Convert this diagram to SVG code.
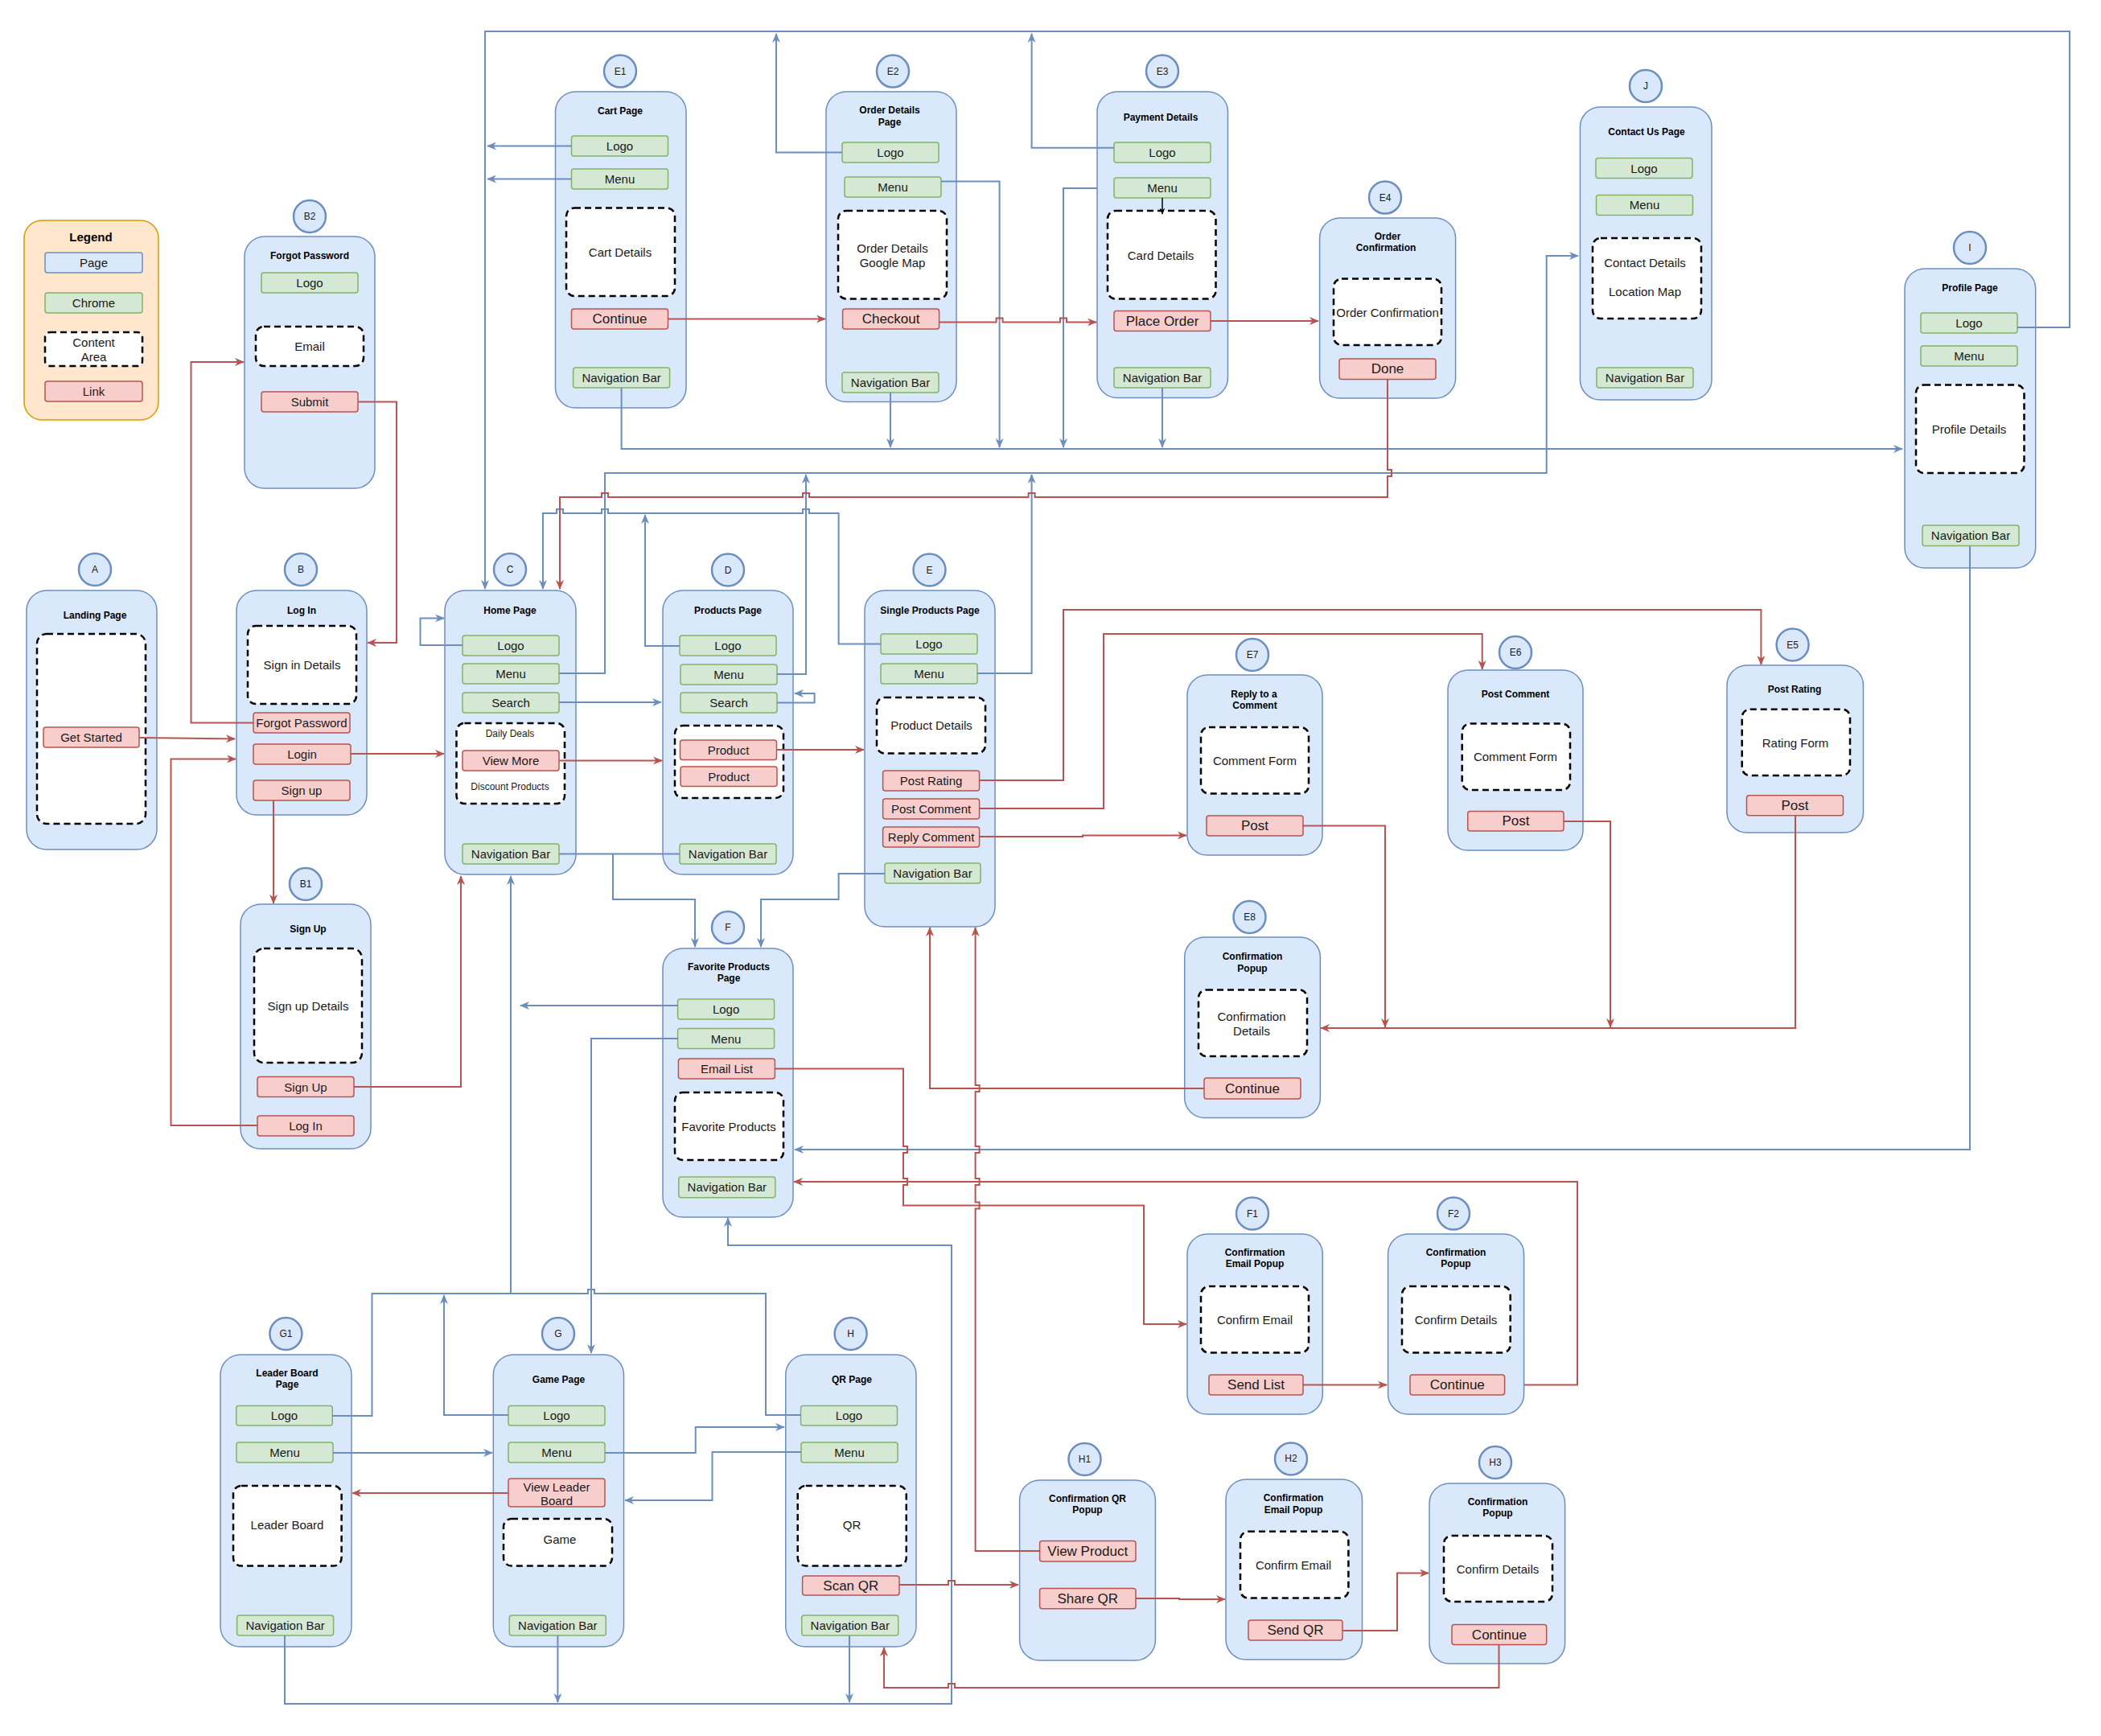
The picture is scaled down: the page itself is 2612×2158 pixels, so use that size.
<svg xmlns="http://www.w3.org/2000/svg" width="2612" height="2158" viewBox="0 0 2612 2158">
<defs>
<style>
.pg{fill:#dae8fc;stroke:#6c8ebf;stroke-width:1.5}
.ci{fill:#dae8fc;stroke:#6c8ebf;stroke-width:2.5}
.ch{fill:#d5e8d4;stroke:#82b366;stroke-width:1.5}
.lk{fill:#f8cecc;stroke:#b85450;stroke-width:1.5}
.ca{fill:#ffffff;stroke:#000000;stroke-width:2.5;stroke-dasharray:8 5}
text{font-family:"Liberation Sans",Arial,Helvetica,sans-serif;font-size:15px;text-anchor:middle;dominant-baseline:central;fill:#1a1a1a}
.tt{font-size:12px;font-weight:bold;fill:#000000}
.sm{font-size:12px}
.lg{font-size:17px}
.bl{fill:none;stroke:#6c8ebf;stroke-width:2}
.rl{fill:none;stroke:#b85450;stroke-width:2}
.ba{marker-end:url(#ab)}
.ra{marker-end:url(#ar)}
</style>
<marker id="ab" viewBox="0 0 12 10" refX="11" refY="5" markerWidth="12" markerHeight="10" markerUnits="userSpaceOnUse" orient="auto"><path d="M0,0 L12,5 L0,10 L3.5,5 z" fill="#6c8ebf"/></marker>
<marker id="ar" viewBox="0 0 12 10" refX="11" refY="5" markerWidth="12" markerHeight="10" markerUnits="userSpaceOnUse" orient="auto"><path d="M0,0 L12,5 L0,10 L3.5,5 z" fill="#b85450"/></marker>
<marker id="ak" viewBox="0 0 12 10" refX="11" refY="5" markerWidth="8" markerHeight="7" markerUnits="userSpaceOnUse" orient="auto"><path d="M0,0 L12,5 L0,10 L3.5,5 z" fill="#000000"/></marker>
</defs>
<rect x="0" y="0" width="2612" height="2158" fill="#ffffff"/>

<g id="nodes">
<g id="legend">
<rect x="30" y="274" width="167" height="248" rx="22" fill="#ffe6cc" stroke="#d79b00" stroke-width="1.5"/>
<text x="113" y="294" style="font-weight:bold;fill:#000">Legend</text>
<rect class="pg" x="56" y="314" width="121" height="25" rx="3"/><text x="116.5" y="326.5">Page</text>
<rect class="ch" x="56" y="364" width="121" height="25" rx="3"/><text x="116.5" y="376.5">Chrome</text>
<rect class="ca" x="56" y="413" width="121" height="42" rx="6"/><text x="116.5" y="425.5">Content</text><text x="116.5" y="443.5">Area</text>
<rect class="lk" x="56" y="474" width="121" height="25" rx="3"/><text x="116.5" y="486.5">Link</text>
</g>

<g id="B2">
<rect class="pg" x="304" y="294" width="162" height="313" rx="25"/>
<circle class="ci" cx="385" cy="269" r="20"/><text class="sm" x="385" y="269">B2</text>
<text class="tt" x="385" y="318">Forgot Password</text>
<rect class="ch" x="325" y="339" width="120" height="25" rx="3"/><text x="385" y="351.5">Logo</text>
<rect class="ca" x="318" y="406" width="134" height="49" rx="10"/><text x="385" y="430.5">Email</text>
<rect class="lk" x="325" y="487" width="120" height="25" rx="3"/><text x="385" y="499.5">Submit</text>
</g>

<g id="A">
<rect class="pg" x="33" y="734" width="162" height="322" rx="25"/>
<circle class="ci" cx="118" cy="708" r="20"/><text class="sm" x="118" y="708">A</text>
<text class="tt" x="118" y="765">Landing Page</text>
<rect class="ca" x="46" y="788" width="135" height="236" rx="12"/>
<rect class="lk" x="54" y="904" width="119" height="25" rx="3"/><text x="113.5" y="916.5">Get Started</text>
</g>

<g id="B">
<rect class="pg" x="294" y="734" width="162" height="279" rx="25"/>
<circle class="ci" cx="374" cy="708" r="20"/><text class="sm" x="374" y="708">B</text>
<text class="tt" x="375" y="758.5">Log In</text>
<rect class="ca" x="308" y="778" width="135" height="97" rx="10"/><text x="375.5" y="826.5">Sign in Details</text>
<rect class="lk" x="315" y="886" width="120" height="25" rx="3"/><text x="375" y="898.5">Forgot Password</text>
<rect class="lk" x="315" y="925" width="121" height="25" rx="3"/><text x="375.5" y="937.5">Login</text>
<rect class="lk" x="315" y="970" width="120" height="25" rx="3"/><text x="375" y="982.5">Sign up</text>
</g>

<g id="B1">
<rect class="pg" x="299" y="1124" width="162" height="304" rx="25"/>
<circle class="ci" cx="380" cy="1099" r="20"/><text class="sm" x="380" y="1099">B1</text>
<text class="tt" x="383" y="1155">Sign Up</text>
<rect class="ca" x="316" y="1179" width="134" height="142" rx="12"/><text x="383" y="1250">Sign up Details</text>
<rect class="lk" x="320" y="1338.5" width="120" height="25" rx="3"/><text x="380" y="1351">Sign Up</text>
<rect class="lk" x="320" y="1387" width="120" height="25" rx="3"/><text x="380" y="1399.5">Log In</text>
</g>

<g id="C">
<rect class="pg" x="553" y="734" width="163" height="353" rx="25"/>
<circle class="ci" cx="634" cy="708" r="20"/><text class="sm" x="634" y="708">C</text>
<text class="tt" x="634" y="758.5">Home Page</text>
<rect class="ch" x="575" y="790" width="120" height="25" rx="3"/><text x="635" y="802.5">Logo</text>
<rect class="ch" x="575" y="825" width="120" height="25" rx="3"/><text x="635" y="837.5">Menu</text>
<rect class="ch" x="575" y="861" width="120" height="25" rx="3"/><text x="635" y="873.5">Search</text>
<rect class="ca" x="567.5" y="899" width="134.5" height="100" rx="10"/>
<text class="sm" x="634" y="911.5">Daily Deals</text>
<rect class="lk" x="575" y="933" width="120" height="25" rx="3"/><text x="635" y="945.5">View More</text>
<text class="sm" x="634" y="977.5">Discount Products</text>
<rect class="ch" x="575" y="1049" width="120" height="25" rx="3"/><text x="635" y="1061.5">Navigation Bar</text>
</g>

<g id="D">
<rect class="pg" x="824" y="734" width="162" height="353" rx="25"/>
<circle class="ci" cx="905" cy="708.5" r="20"/><text class="sm" x="905" y="708.5">D</text>
<text class="tt" x="905" y="758.5">Products Page</text>
<rect class="ch" x="845" y="790" width="120" height="25" rx="3"/><text x="905" y="802.5">Logo</text>
<rect class="ch" x="846" y="826" width="120" height="25" rx="3"/><text x="906" y="838.5">Menu</text>
<rect class="ch" x="846" y="861" width="120" height="25" rx="3"/><text x="906" y="873.5">Search</text>
<rect class="ca" x="839" y="902" width="135" height="90" rx="10"/>
<rect class="lk" x="845.5" y="920" width="120" height="24.5" rx="3"/><text x="905.5" y="932.25">Product</text>
<rect class="lk" x="846" y="953" width="120" height="24.5" rx="3"/><text x="906" y="965.25">Product</text>
<rect class="ch" x="845" y="1049" width="120" height="25" rx="3"/><text x="905" y="1061.5">Navigation Bar</text>
</g>

<g id="E">
<rect class="pg" x="1075" y="734" width="162" height="418" rx="25"/>
<circle class="ci" cx="1155.5" cy="708.5" r="20"/><text class="sm" x="1155.5" y="708.5">E</text>
<text class="tt" x="1156" y="758.5">Single Products Page</text>
<rect class="ch" x="1095" y="788" width="120" height="25" rx="3"/><text x="1155" y="800.5">Logo</text>
<rect class="ch" x="1095" y="825" width="120" height="25" rx="3"/><text x="1155" y="837.5">Menu</text>
<rect class="ca" x="1090" y="867" width="135" height="69.5" rx="10"/><text x="1158" y="901.5">Product Details</text>
<rect class="lk" x="1097.6" y="958" width="120" height="25" rx="3"/><text x="1157.6" y="970.5">Post Rating</text>
<rect class="lk" x="1097.6" y="993" width="120" height="25" rx="3"/><text x="1157.6" y="1005.5">Post Comment</text>
<rect class="lk" x="1097.6" y="1028" width="120" height="25" rx="3"/><text x="1157.6" y="1040.5">Reply Comment</text>
<rect class="ch" x="1100" y="1073" width="119" height="25" rx="3"/><text x="1159.5" y="1085.5">Navigation Bar</text>
</g>

<g id="E1">
<rect class="pg" x="690.5" y="114" width="162.5" height="393" rx="25"/>
<circle class="ci" cx="771" cy="88.6" r="20"/><text class="sm" x="771" y="88.6">E1</text>
<text class="tt" x="771" y="138">Cart Page</text>
<rect class="ch" x="710.5" y="169" width="120" height="25" rx="3"/><text x="770.5" y="181.5">Logo</text>
<rect class="ch" x="710.5" y="210" width="120" height="25" rx="3"/><text x="770.5" y="222.5">Menu</text>
<rect class="ca" x="704" y="258.5" width="135" height="109.5" rx="10"/><text x="771" y="313">Cart Details</text>
<rect class="lk" x="710.5" y="384" width="120" height="25" rx="3"/><text class="lg" x="770.5" y="396.5">Continue</text>
<rect class="ch" x="712.6" y="457" width="120" height="25" rx="3"/><text x="772.6" y="469.5">Navigation Bar</text>
</g>

<g id="E2">
<rect class="pg" x="1027" y="114" width="162" height="385.5" rx="25"/>
<circle class="ci" cx="1110" cy="88.6" r="20"/><text class="sm" x="1110" y="88.6">E2</text>
<text class="tt" x="1106" y="137.3">Order Details</text><text class="tt" x="1106" y="151.5">Page</text>
<rect class="ch" x="1047" y="177" width="120" height="25" rx="3"/><text x="1107" y="189.5">Logo</text>
<rect class="ch" x="1050" y="220" width="120" height="25" rx="3"/><text x="1110" y="232.5">Menu</text>
<rect class="ca" x="1042" y="262" width="135" height="109.5" rx="10"/><text x="1109.5" y="308.5">Order Details</text><text x="1109.5" y="326.5">Google Map</text>
<rect class="lk" x="1047.6" y="384" width="120" height="25" rx="3"/><text class="lg" x="1107.6" y="396.5">Checkout</text>
<rect class="ch" x="1047" y="463" width="120" height="25" rx="3"/><text x="1107" y="475.5">Navigation Bar</text>
</g>

<g id="E3">
<rect class="pg" x="1364" y="114" width="162.5" height="380.5" rx="25"/>
<circle class="ci" cx="1445" cy="88.6" r="20"/><text class="sm" x="1445" y="88.6">E3</text>
<text class="tt" x="1443" y="145.5">Payment Details</text>
<rect class="ch" x="1385" y="177" width="120" height="25" rx="3"/><text x="1445" y="189.5">Logo</text>
<rect class="ch" x="1385" y="221" width="120" height="25" rx="3"/><text x="1445" y="233.5">Menu</text>
<rect class="ca" x="1377" y="262" width="134.5" height="109.5" rx="10"/><text x="1443" y="317">Card Details</text>
<rect class="lk" x="1385" y="386.6" width="120" height="25" rx="3"/><text class="lg" x="1445" y="399.1">Place Order</text>
<rect class="ch" x="1385" y="457" width="120" height="25" rx="3"/><text x="1445" y="469.5">Navigation Bar</text>
</g>

<g id="E4">
<rect class="pg" x="1640.6" y="271" width="169" height="224" rx="25"/>
<circle class="ci" cx="1722" cy="245.6" r="20"/><text class="sm" x="1722" y="245.6">E4</text>
<text class="tt" x="1725" y="294.3">Order</text><text class="tt" x="1723" y="308">Confirmation</text>
<rect class="ca" x="1658" y="346.6" width="134" height="82.4" rx="10"/><text x="1725" y="388.4">Order Confirmation</text>
<rect class="lk" x="1665" y="446" width="120" height="25.5" rx="3"/><text class="lg" x="1725" y="458.75">Done</text>
</g>

<g id="J">
<rect class="pg" x="1964.4" y="133" width="163.6" height="364" rx="25"/>
<circle class="ci" cx="2046" cy="107" r="20"/><text class="sm" x="2046" y="107">J</text>
<text class="tt" x="2047" y="163.5">Contact Us Page</text>
<rect class="ch" x="1984" y="196.5" width="120" height="25" rx="3"/><text x="2044" y="209">Logo</text>
<rect class="ch" x="1984.5" y="242.4" width="120" height="25" rx="3"/><text x="2044.5" y="254.9">Menu</text>
<rect class="ca" x="1980" y="296" width="135" height="100" rx="10"/><text x="2045" y="326.4">Contact Details</text><text x="2045" y="362.7">Location Map</text>
<rect class="ch" x="1985" y="457" width="120" height="25" rx="3"/><text x="2045" y="469.5">Navigation Bar</text>
</g>

<g id="I">
<rect class="pg" x="2368" y="334" width="162.7" height="372" rx="25"/>
<circle class="ci" cx="2449" cy="308" r="20"/><text class="sm" x="2449" y="308">I</text>
<text class="tt" x="2449" y="358">Profile Page</text>
<rect class="ch" x="2388" y="389" width="120" height="25" rx="3"/><text x="2448" y="401.5">Logo</text>
<rect class="ch" x="2388" y="430" width="120" height="25" rx="3"/><text x="2448" y="442.5">Menu</text>
<rect class="ca" x="2382" y="478.4" width="134.5" height="109.6" rx="10"/><text x="2448" y="533.5">Profile Details</text>
<rect class="ch" x="2390" y="653" width="120" height="25.6" rx="3"/><text x="2450" y="665.8">Navigation Bar</text>
</g>

<g id="E7">
<rect class="pg" x="1476" y="839" width="168" height="224" rx="25"/>
<circle class="ci" cx="1557" cy="814" r="20"/><text class="sm" x="1557" y="814">E7</text>
<text class="tt" x="1559" y="862.8">Reply to a</text><text class="tt" x="1560" y="876.5">Comment</text>
<rect class="ca" x="1493" y="904" width="134" height="82.5" rx="10"/><text x="1560" y="945.4">Comment Form</text>
<rect class="lk" x="1500" y="1014" width="120" height="25" rx="3"/><text class="lg" x="1560" y="1026.5">Post</text>
</g>

<g id="E6">
<rect class="pg" x="1800" y="833" width="168" height="224" rx="25"/>
<circle class="ci" cx="1884" cy="811" r="20"/><text class="sm" x="1884" y="811">E6</text>
<text class="tt" x="1884" y="863">Post Comment</text>
<rect class="ca" x="1817.7" y="899.6" width="134.3" height="82.4" rx="10"/><text x="1884" y="940.7">Comment Form</text>
<rect class="lk" x="1824.75" y="1008.6" width="119.25" height="24.4" rx="3"/><text class="lg" x="1884.4" y="1020.8">Post</text>
</g>

<g id="E5">
<rect class="pg" x="2147" y="827" width="169.5" height="208" rx="25"/>
<circle class="ci" cx="2228.6" cy="801.5" r="20"/><text class="sm" x="2228.6" y="801.5">E5</text>
<text class="tt" x="2231" y="857">Post Rating</text>
<rect class="ca" x="2165.7" y="881.7" width="134.3" height="82.3" rx="10"/><text x="2232" y="923.7">Rating Form</text>
<rect class="lk" x="2171.5" y="988.8" width="120" height="25" rx="3"/><text class="lg" x="2231.5" y="1001.3">Post</text>
</g>

<g id="E8">
<rect class="pg" x="1472.7" y="1165" width="168.7" height="224.5" rx="25"/>
<circle class="ci" cx="1553.5" cy="1140" r="20"/><text class="sm" x="1553.5" y="1140">E8</text>
<text class="tt" x="1557" y="1189.4">Confirmation</text><text class="tt" x="1557" y="1203.5">Popup</text>
<rect class="ca" x="1490" y="1230.4" width="135" height="82.6" rx="10"/><text x="1556" y="1263.5">Confirmation</text><text x="1556" y="1281.4">Details</text>
<rect class="lk" x="1497" y="1340" width="120" height="26" rx="3"/><text class="lg" x="1557" y="1353">Continue</text>
</g>

<g id="F">
<rect class="pg" x="824" y="1179" width="162" height="334" rx="25"/>
<circle class="ci" cx="905" cy="1153" r="20"/><text class="sm" x="905" y="1153">F</text>
<text class="tt" x="906" y="1202">Favorite Products</text><text class="tt" x="906" y="1216">Page</text>
<rect class="ch" x="842.6" y="1242" width="120" height="25" rx="3"/><text x="902.6" y="1254.5">Logo</text>
<rect class="ch" x="842.6" y="1278.6" width="120" height="25" rx="3"/><text x="902.6" y="1291.1">Menu</text>
<rect class="lk" x="843.4" y="1316" width="120" height="25" rx="3"/><text x="903.4" y="1328.5">Email List</text>
<rect class="ca" x="839" y="1358" width="135" height="84" rx="10"/><text x="906" y="1400">Favorite Products</text>
<rect class="ch" x="843.8" y="1463" width="120" height="25.7" rx="3"/><text x="903.8" y="1475.8">Navigation Bar</text>
</g>

<g id="F1">
<rect class="pg" x="1476" y="1534" width="168.3" height="224" rx="25"/>
<circle class="ci" cx="1557" cy="1508.5" r="20"/><text class="sm" x="1557" y="1508.5">F1</text>
<text class="tt" x="1560" y="1557.4">Confirmation</text><text class="tt" x="1560" y="1571">Email Popup</text>
<rect class="ca" x="1493" y="1599" width="134" height="82.6" rx="10"/><text x="1560" y="1640">Confirm Email</text>
<rect class="lk" x="1503" y="1709" width="117" height="25" rx="3"/><text class="lg" x="1561.5" y="1721.5">Send List</text>
</g>

<g id="F2">
<rect class="pg" x="1725.6" y="1534" width="169" height="224" rx="25"/>
<circle class="ci" cx="1807" cy="1508.5" r="20"/><text class="sm" x="1807" y="1508.5">F2</text>
<text class="tt" x="1810" y="1557.4">Confirmation</text><text class="tt" x="1810" y="1571">Popup</text>
<rect class="ca" x="1743" y="1599" width="134.7" height="82.6" rx="10"/><text x="1810" y="1640">Confirm Details</text>
<rect class="lk" x="1753" y="1709" width="117.6" height="25" rx="3"/><text class="lg" x="1811.8" y="1721.5">Continue</text>
</g>

<g id="G1">
<rect class="pg" x="274" y="1684" width="163" height="363" rx="25"/>
<circle class="ci" cx="355.4" cy="1658" r="20"/><text class="sm" x="355.4" y="1658">G1</text>
<text class="tt" x="357" y="1707">Leader Board</text><text class="tt" x="357" y="1721">Page</text>
<rect class="ch" x="293.75" y="1747.5" width="119.5" height="24.5" rx="3"/><text x="353.5" y="1759.75">Logo</text>
<rect class="ch" x="294" y="1793" width="120" height="25" rx="3"/><text x="354" y="1805.5">Menu</text>
<rect class="ca" x="290" y="1847" width="134.6" height="99.6" rx="10"/><text x="357" y="1895.8">Leader Board</text>
<rect class="ch" x="294.6" y="2008" width="120" height="25" rx="3"/><text x="354.6" y="2020.5">Navigation Bar</text>
</g>

<g id="G">
<rect class="pg" x="613.3" y="1684" width="162.2" height="363" rx="25"/>
<circle class="ci" cx="694" cy="1658" r="20"/><text class="sm" x="694" y="1658">G</text>
<text class="tt" x="694.5" y="1714.6">Game Page</text>
<rect class="ch" x="632" y="1747.5" width="120" height="24.5" rx="3"/><text x="692" y="1759.75">Logo</text>
<rect class="ch" x="632" y="1793" width="120" height="25" rx="3"/><text x="692" y="1805.5">Menu</text>
<rect class="lk" x="632" y="1838" width="120" height="35" rx="3"/><text x="692" y="1848.5">View Leader</text><text x="692" y="1865.5">Board</text>
<rect class="ca" x="626" y="1888" width="135" height="58.6" rx="10"/><text x="696" y="1913">Game</text>
<rect class="ch" x="633.3" y="2008" width="120" height="25" rx="3"/><text x="693.3" y="2020.5">Navigation Bar</text>
</g>

<g id="H">
<rect class="pg" x="976.75" y="1684" width="162.25" height="363" rx="25"/>
<circle class="ci" cx="1057.6" cy="1658" r="20"/><text class="sm" x="1057.6" y="1658">H</text>
<text class="tt" x="1059" y="1714.6">QR Page</text>
<rect class="ch" x="995.5" y="1747.5" width="120" height="24.5" rx="3"/><text x="1055.5" y="1759.75">Logo</text>
<rect class="ch" x="996" y="1793" width="120" height="25" rx="3"/><text x="1056" y="1805.5">Menu</text>
<rect class="ca" x="991.75" y="1847" width="135" height="99.6" rx="10"/><text x="1059" y="1895.8">QR</text>
<rect class="lk" x="997.6" y="1959" width="120.4" height="24" rx="3"/><text class="lg" x="1057.8" y="1971">Scan QR</text>
<rect class="ch" x="996.75" y="2008" width="120" height="25" rx="3"/><text x="1056.75" y="2020.5">Navigation Bar</text>
</g>

<g id="H1">
<rect class="pg" x="1267.6" y="1840" width="168.8" height="224" rx="25"/>
<circle class="ci" cx="1348.5" cy="1814" r="20"/><text class="sm" x="1348.5" y="1814">H1</text>
<text class="tt" x="1352" y="1863">Confirmation QR</text><text class="tt" x="1352" y="1877.4">Popup</text>
<rect class="lk" x="1292.6" y="1915.5" width="119.4" height="25.5" rx="3"/><text class="lg" x="1352.3" y="1928.25">View Product</text>
<rect class="lk" x="1292.6" y="1974.4" width="119.4" height="25.4" rx="3"/><text class="lg" x="1352.3" y="1987.1">Share QR</text>
</g>

<g id="H2">
<rect class="pg" x="1524" y="1839" width="169.5" height="224" rx="25"/>
<circle class="ci" cx="1605" cy="1813.4" r="20"/><text class="sm" x="1605" y="1813.4">H2</text>
<text class="tt" x="1608" y="1862">Confirmation</text><text class="tt" x="1608" y="1876.5">Email Popup</text>
<rect class="ca" x="1542" y="1903.8" width="134.4" height="82.8" rx="10"/><text x="1608" y="1945">Confirm Email</text>
<rect class="lk" x="1552" y="2014" width="117" height="25" rx="3"/><text class="lg" x="1610.5" y="2026.5">Send QR</text>
</g>

<g id="H3">
<rect class="pg" x="1777" y="1844" width="168.6" height="224" rx="25"/>
<circle class="ci" cx="1859" cy="1818" r="20"/><text class="sm" x="1859" y="1818">H3</text>
<text class="tt" x="1862" y="1867">Confirmation</text><text class="tt" x="1862" y="1881">Popup</text>
<rect class="ca" x="1795" y="1909" width="135" height="82" rx="10"/><text x="1862" y="1950">Confirm Details</text>
<rect class="lk" x="1805" y="2019.5" width="117.7" height="25" rx="3"/><text class="lg" x="1863.9" y="2032">Continue</text>
</g>
</g>

<g id="connectors">
<path class="bl ba" d="M2508,407 H2573 V39 H603 V732"/>
<path class="bl ba" d="M711,181.5 H606"/>
<path class="bl ba" d="M711,222.5 H606"/>
<path class="bl ba" d="M1047,189.6 H965 V42"/>
<path class="bl ba" d="M1385,183.7 H1282.6 V42"/>
<path class="bl ba" d="M772.6,482 V558 H2365"/>
<path class="bl ba" d="M1107,488 V556"/>
<path class="bl ba" d="M1170,225.4 H1242.6 V556"/>
<path class="bl ba" d="M1364,234 H1322 V556"/>
<path class="bl ba" d="M1445,482 V556"/>
<path class="bl ba" d="M695,837 H752 V588 H1922.7 V318 H1962"/>
<path class="bl ba" d="M966,838 H1002 V590"/>
<path class="bl ba" d="M1215,837 H1282.6 V590"/>
<path class="bl ba" d="M1095,800.5 H1042.6 V638 H1006 v-5 h-8 v5 H756 v-5 h-8 v5 H700 v-5 h-8 v5 H675 V732"/>
<path class="bl ba" d="M845,803 H802 V640"/>
<path class="bl ba" d="M575,802 H522.5 V768.4 H552"/>
<path class="bl ba" d="M695,873 H822"/>
<path class="bl ba" d="M966,873.6 H1012.6 V862 H988"/>
<path class="bl ba" d="M695,1061.5 H762 V1118 H864 V1177"/>
<path class="bl" d="M845,1061.5 H762"/>
<path class="bl ba" d="M1100,1086 H1042.6 V1118 H946 V1177"/>
<path class="bl ba" d="M2449,679 V1429 H988"/>
<path class="bl ba" d="M843,1250 H647"/>
<path class="bl ba" d="M843,1291 H735 V1682"/>
<path class="bl" d="M413,1760 H462.5 V1608 H731 v-5 h8 v5 H952 V1759 H995.5"/>
<path class="bl ba" d="M635,1608 V1089"/>
<path class="bl ba" d="M632,1759 H552 V1610"/>
<path class="bl ba" d="M414,1806 H612"/>
<path class="bl ba" d="M752,1806 H864.7 V1774 H975"/>
<path class="bl ba" d="M996,1805 H885.5 V1865 H777"/>
<path class="bl ba" d="M354,2033 V2118 H1183 V1548 H905 V1514"/>
<path class="bl ba" d="M693.4,2033 V2116"/>
<path class="bl ba" d="M1056,2033 V2116"/>
<path class="rl ra" d="M173,917 L292,918.5"/>
<path class="rl ra" d="M315,898.5 H237.5 V450 H303"/>
<path class="rl ra" d="M445,499.5 H493 V799 H457"/>
<path class="rl ra" d="M436,937 H552"/>
<path class="rl ra" d="M340,995 V1123"/>
<path class="rl ra" d="M320,1399 H212.5 V943.5 H293"/>
<path class="rl ra" d="M440,1351 H573 V1089"/>
<path class="rl ra" d="M695,945.4 H823"/>
<path class="rl ra" d="M965.5,932 H1074"/>
<path class="rl ra" d="M830,396.5 H1026"/>
<path class="rl ra" d="M1168,400.4 H1238.6 v-5 h8 v5 H1318 v-5 h8 v5 H1363"/>
<path class="rl ra" d="M1505,399 H1639"/>
<path class="rl ra" d="M1725,471.5 V584 h5 v8 h-5 V618 H1286.6 v-5 h-8 v5 H1006 v-5 h-8 v5 H756 v-5 h-8 v5 H696 V732"/>
<path class="rl ra" d="M1218,970 H1322 V758 H2189.4 V826"/>
<path class="rl ra" d="M1218,1005 H1372 V788 H1842.7 V832"/>
<path class="rl ra" d="M1218,1040 H1346 V1038.4 H1475"/>
<path class="rl ra" d="M1620,1026.6 H1722 V1277"/>
<path class="rl ra" d="M1944,1021 H2002 V1277"/>
<path class="rl ra" d="M2232,1014 V1278 H1642"/>
<path class="rl ra" d="M1497,1353 H1156 V1153"/>
<path class="rl ra" d="M1292.6,1928 H1212.6 V1502.6 h5 v-8 h-5 V1473 h5 v-8 h-5 V1433 h5 v-8 h-5 V1357 h5 v-8 h-5 V1153"/>
<path class="rl ra" d="M963.4,1328.5 H1123 V1425 h5 v8 h-5 V1465 h5 v8 h-5 V1498.6 H1422 V1646 H1475"/>
<path class="rl ra" d="M1895,1721.6 H1961 V1469 H987"/>
<path class="rl ra" d="M1620,1721.6 H1724"/>
<path class="rl ra" d="M632,1856 H438"/>
<path class="rl ra" d="M1118,1970 H1179 v-5 h8 v5 H1266"/>
<path class="rl ra" d="M1412,1987 H1466 V1988 H1523"/>
<path class="rl ra" d="M1669,2027 H1737 V1955.5 H1776"/>
<path class="rl ra" d="M1863.5,2044.5 V2098 H1187 v-5 h-8 v5 H1099 V2048"/>
<path d="M1445,246 V266" fill="none" stroke="#000000" stroke-width="1.5" marker-end="url(#ak)"/>
</g>
</svg>
